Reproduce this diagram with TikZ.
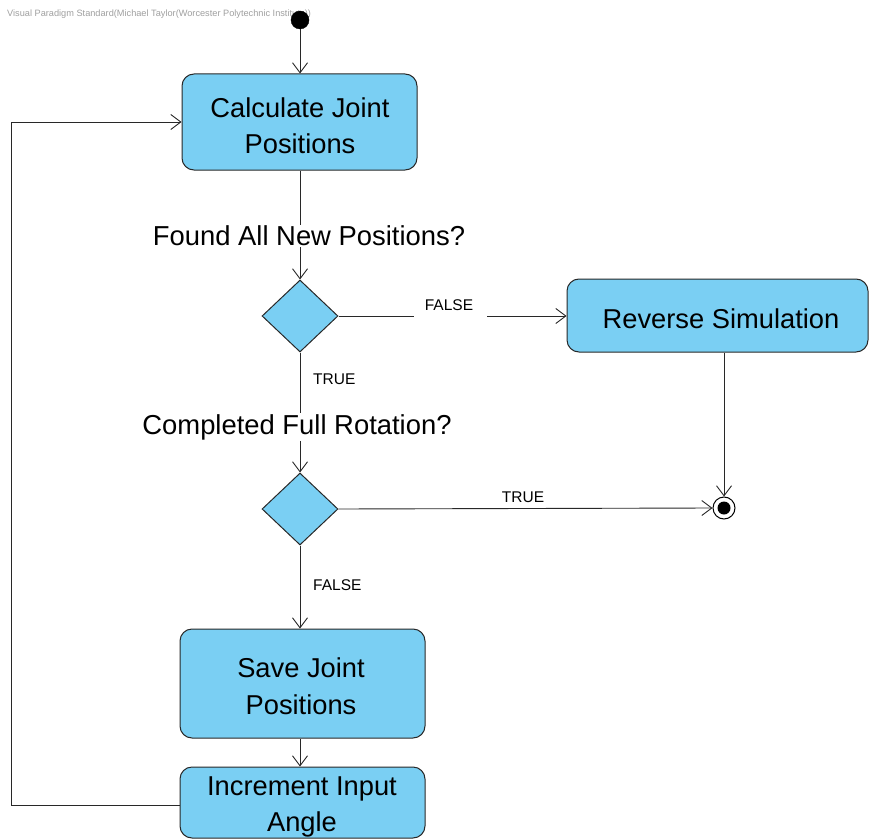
\documentclass[tikz,border=0pt]{standalone}
\usepackage{fontspec}
\setmainfont{Liberation Sans}
\usetikzlibrary{shapes.geometric,arrows.meta}
\definecolor{actfill}{RGB}{122,207,243}
\definecolor{actdraw}{RGB}{40,40,40}
\tikzset{
  act/.style={draw=actdraw,fill=actfill,rectangle,rounded corners=12pt,line width=1pt,inner sep=0pt},
  acttext/.style={align=center,inner sep=0pt,font=\fontsize{27.3}{36.5}\selectfont},
  dec/.style={draw=actdraw,fill=actfill,diamond,line width=1pt,inner sep=0pt,minimum width=76pt,minimum height=72pt},
  guard/.style={inner sep=1pt,font=\fontsize{27.4}{30}\selectfont},
  small/.style={inner sep=1pt,font=\fontsize{15.5}{18}\selectfont},
  flow/.style={line width=0.9pt,draw=actdraw},
  arr/.style={flow,-{Straight Barb[length=10pt,width=15pt]}},
}
\begin{document}
\begin{tikzpicture}[x=1pt,y=-1pt]
\useasboundingbox (0,0) rectangle (870,840);
\node[anchor=west,inner sep=0pt,text=gray!75,font=\fontsize{9.2}{10}\selectfont] (wm) at (7,14) {Visual Paradigm Standard(Michael Taylor(Worcester Polytechnic Institute))};
\node[circle,fill=black,draw=black,minimum size=18pt,inner sep=0pt] (init) at (300,20) {};
\node[act,minimum width=235pt,minimum height=96pt] (calc) at (299.5,122) {};
\node[acttext] (calct) at (300,125.5) {Calculate Joint\\Positions};
\node[guard] (q1) at (309,236) {Found All New Positions?};
\node[dec] (d1) at (300,316) {};
\node[act,minimum width=301pt,minimum height=73pt] (rev) at (717.5,315.5) {};
\node[acttext] (revt) at (721,318.5) {Reverse Simulation};
\node[small] (f1) at (449,305) {FALSE};
\node[small,anchor=west] (t1) at (312,379) {TRUE};
\node[guard] (q2) at (297,427) {Completed Full Rotation?};
\node[dec] (d2) at (300,509) {};
\node[small] (t2) at (523,497) {TRUE};
\node[small,anchor=west] (f2) at (312,585) {FALSE};
\node[act,minimum width=245pt,minimum height=109pt] (save) at (302.5,683.5) {};
\node[acttext] (savet) at (301,686) {Save Joint\\Positions};
\node[act,minimum width=245pt,minimum height=71pt] (inc) at (302.5,802.5) {};
\node[acttext] (inct) at (302,807) {Increment Input\\Angle};
\node[circle,draw=black,fill=white,line width=1pt,minimum size=22pt,inner sep=0pt] (fin) at (724,508) {};
\node[circle,fill=black,minimum size=13pt,inner sep=0pt] (fincore) at (fin) {};
% connectors
\draw[arr] (init.south) -- (init.south |- calc.north);
\draw[flow] (calc.south -| d1.north) -- (d1.north |- q1.north);
\draw[arr] (d1.north |- q1.south) -- (d1.north);
\draw[flow] (d1.east) -- ([xshift=-10pt]f1.west |- d1.east);
\draw[arr] ([xshift=13pt]f1.east |- d1.east) -- (rev.west |- d1.east);
\draw[flow] (d1.south) -- (d1.south |- q2.north);
\draw[arr] (d2.north |- q2.south) -- (d2.north);
\draw[arr] (d2.east) -- (fin.west);
\draw[arr] (fin.north |- rev.south) -- (fin.north);
\draw[arr] (d2.south) -- (d2.south |- save.north);
\draw[arr] (save.south -| d2.south) -- (d2.south |- inc.north);
\draw[arr] ([yshift=-3pt]inc.west) -- ++(-168,0) |- (calc.west);
\end{tikzpicture}
\end{document}
